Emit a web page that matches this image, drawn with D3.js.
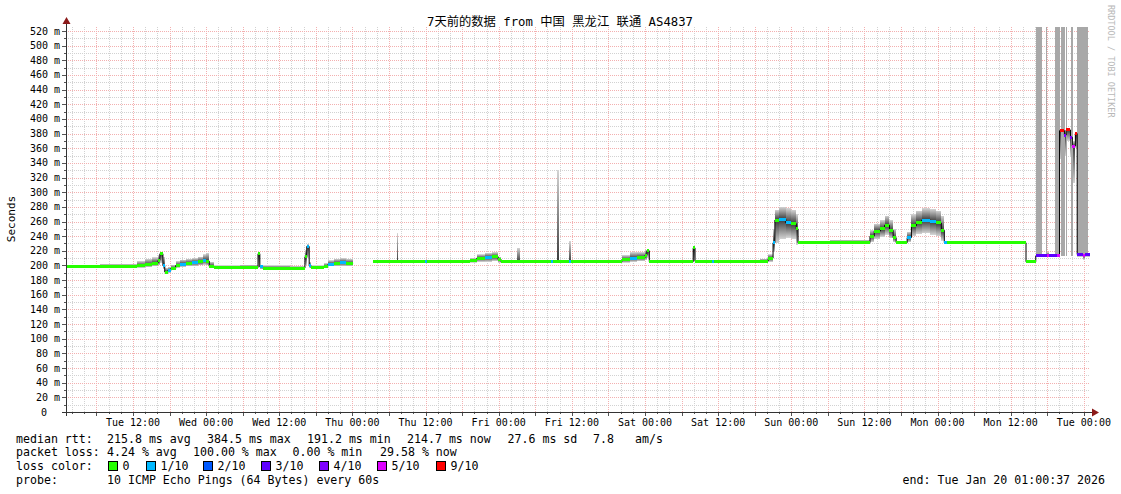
<!DOCTYPE html>
<html><head><meta charset="utf-8">
<script src="https://cdn.jsdelivr.net/npm/d3@7"></script>
<style>
html,body{margin:0;padding:0;background:#fff;}
svg{display:block;}
text{font-family:"DejaVu Sans Mono","Noto Sans CJK SC",monospace;fill:#000;white-space:pre;}
</style></head><body>
<svg id="chart" width="1121" height="494"></svg>
<script>
// ---- data (hours after start, median rtt in ms, smoke low/high, loss in tenths) ----
const startTime = "2026-01-13T01:00:37Z";
const endTime = "2026-01-20T01:00:37Z";
const hrs = [0,5.6,11.6,13.0,14.1,15.1,15.4,15.9,16.2,16.7,17.2,18.0,18.7,19.7,20.7,21.7,22.5,23.0,23.5,24.3,
  28.5,31.5,31.8,32.3,36.8,39.2,39.5,39.9,40.2,42.3,43.0,44.0,45.0,45.9,47.1,50.4,51.5,54.3,54.5,58.9,
  59.2,66.3,67.4,68.7,69.9,70.9,71.4,74.0,74.5,79.6,79.9,80.6,80.9,82.5,82.9,91.2,92.5,93.7,95.0,95.3,
  95.7,102.9,103.2,106.0,106.3,113.9,115.2,116.0,116.3,117.0,118.1,119.0,119.8,120.1,125.4,131.9,132.6,133.6,134.3,135.1,
  135.7,136.2,138.0,138.7,139.5,140.4,141.8,142.7,143.6,144.1,144.5,157.5,159.1,161.0,161.2,162.6,163.0,163.8,164.1,164.8,
  165.1,165.6,165.9,166.9,167.2];
const med = [198.5,198.5,199.5,201,203,207,216,200,191,193,196,200,202,203,204,205,207,206,199,197,
  197,216,198,196.5,196.5,212,226,200,197,199,202,203,204,203,null,206,205,205,205.5,205.5,
  205.5,207,210,211,212,208,205,205,205,205,205,205,205,205,205,208,210,211,214,220,
  205,224,206,205,205,206,210,231,262,263,258,257,250,231,231,240,247,250,255,248,
  238,231,238,254,259,262,260,258,248,231,231,205,213,214,213,214,384,378,385,375,
  363,380,215,214,215];
const lo = [197,197,197,198,199,200,203,195,189,190,194,197,198,199,199,200,201,200,196,196,
  196,198,195,195,195,200,210,197,196,197,199,199,199,199,null,204,203,203,204,204,
  204,204,205,205,206,204,204,204,204,204,204,204,204,204,204,204,205,206,207,210,
  204,206,204,204,204,204,205,218,230,236,238,236,228,230,230,232,236,239,242,237,
  232,230,232,240,243,244,242,240,234,230,230,204,211,211,211,212,345,350,370,350,
  312,360,212,208,212];
const hi = [200,202,206,209,211,214,219,212,197,198,201,206,208,209,210,212,215,217,205,200,
  201,218,201,200,199,221,229,205,200,203,207,209,210,209,null,208,208,244,208,207,
  207,210,215,217,218,212,207,224,207,207,207,330,207,233,207,214,218,218,221,223,
  207,226,208,207,207,209,215,250,276,280,278,276,270,233,235,248,257,262,268,262,
  250,234,246,270,275,278,277,275,268,234,234,207,216,218,216,217,386,385,386,380,
  370,382,218,250,217];
const loss = [0,0,0,0,0,0,0,1,0,1,0,0,1,0,1,0,1,0,0,0,
  0,0,1,0,0,0,1,1,0,0,1,0,1,0,0,0,0,0,0,1,
  0,0,0,1,0,0,0,0,0,1,0,0,0,1,0,0,1,0,0,0,
  0,0,0,1,0,0,0,1,0,1,1,0,0,0,0,0,0,0,0,0,
  0,0,1,0,0,1,1,0,0,1,0,0,3,5,3,5,9,4,9,4,
  5,9,3,5,3];
// periods with lost pings drawn as full-height bars (hours after start)
const barStart = [159.1,160.7,162.3,163.2,164.1,164.9,165.9];
const barEnd   = [160.1,161.0,163.1,163.9,164.3,165.2,167.7];
const barLow   = [213,213,213,213,213,213,214];

const lossLevels = [0,1,2,3,4,5,9];
const lossColors = ["#26ff00","#00b8ff","#0059ff","#5e00ff","#7e00ff","#dd00ff","#ff0000"];
const lossLabels = ["0","1/10","2/10","3/10","4/10","5/10","9/10"];
const yTickValues = [0,20,40,60,80,100,120,140,160,180,200,220,240,260,280,300,320,340,360,380,400,420,440,460,480,500,520];

const titleText = "7天前的数据 from 中国 黑龙江 联通 AS4837";
const statsRtt = [["median rtt:",16],["215.8 ms avg",107],["384.5 ms max",207],["191.2 ms min",307],["214.7 ms now",407],["27.6 ms sd",507.5],["7.8",593],["am/s",635]];
const statsLoss = [["packet loss:",16],["4.24 % avg",107],["100.00 % max",193],["0.00 % min",292.5],["29.58 % now",380]];
const probeText = "10 ICMP Echo Pings (64 Bytes) every 60s";
const endText = "end: Tue Jan 20 01:00:37 2026";

// ---- chart ----
const svg = d3.select("#chart");
const t0 = new Date(startTime), t1 = new Date(endTime);
const T = h => new Date(t0.getTime() + h * 3600e3);
const x = d3.scaleUtc().domain([t0, t1]).range([66, 1090]);
const y = d3.scaleLinear().domain([0, 525.5]).range([412, 27]);
const endH = (t1 - t0) / 3600e3;
const n = hrs.length;

const defs = svg.append("defs");
const gUp = defs.append("linearGradient").attr("id","smokeUp").attr("x1",0).attr("y1",0).attr("x2",0).attr("y2",1);
gUp.append("stop").attr("offset","0%").attr("stop-color","#d4d4d4");
gUp.append("stop").attr("offset","100%").attr("stop-color","#3a3a3a");
const gDn = defs.append("linearGradient").attr("id","smokeDn").attr("x1",0).attr("y1",0).attr("x2",0).attr("y2",1);
gDn.append("stop").attr("offset","0%").attr("stop-color","#3a3a3a");
gDn.append("stop").attr("offset","100%").attr("stop-color","#d4d4d4");

svg.append("rect").attr("width",1121).attr("height",494).attr("fill","#fff");

// grid
const grid = svg.append("g").attr("shape-rendering","crispEdges");
const yMinor = d3.range(10, 526, 10).filter(v => v % 20 !== 0);
const yMajor = yTickValues.filter(v => v > 0);
const minorCol = "#d2d2d2", majorCol = "#f3b0b0";
grid.selectAll(".hm").data(yMinor).join("line")
  .attr("x1",66).attr("x2",1090).attr("y1",d=>Math.round(y(d))+0.5).attr("y2",d=>Math.round(y(d))+0.5)
  .attr("stroke",minorCol).attr("stroke-dasharray","1,1");
const xMinor = x.ticks(d3.utcHour.every(2)).filter(d => d.getUTCHours() % 6 !== 0);
const xMajor = x.ticks(d3.utcHour.every(6));
grid.selectAll(".vm").data(xMinor).join("line")
  .attr("x1",d=>Math.round(x(d))+0.5).attr("x2",d=>Math.round(x(d))+0.5).attr("y1",27).attr("y2",412)
  .attr("stroke",minorCol).attr("stroke-dasharray","1,1");
grid.selectAll(".hM").data(yMajor).join("line")
  .attr("x1",66).attr("x2",1090).attr("y1",d=>Math.round(y(d))+0.5).attr("y2",d=>Math.round(y(d))+0.5)
  .attr("stroke",majorCol).attr("stroke-dasharray","1,1");
grid.selectAll(".vM").data(xMajor).join("line")
  .attr("x1",d=>Math.round(x(d))+0.5).attr("x2",d=>Math.round(x(d))+0.5).attr("y1",27).attr("y2",412)
  .attr("stroke",majorCol).attr("stroke-dasharray","1,1");

// segments
const segs = d3.range(n).map(i => ({
  h0: hrs[i], h1: i + 1 < n ? hrs[i+1] : endH, m: med[i], lo: lo[i], hi: hi[i], loss: loss[i],
  next: i + 1 < n ? med[i+1] : null
})).filter(s => s.m != null);

// smoke
const smoke = svg.append("g");
smoke.selectAll(".su").data(segs.filter(s => s.hi > s.m)).join("rect")
  .attr("x", s => x(T(s.h0))).attr("width", s => Math.max(1, x(T(s.h1)) - x(T(s.h0))))
  .attr("y", s => y(s.hi)).attr("height", s => y(s.m) - y(s.hi))
  .attr("fill", "url(#smokeUp)").attr("shape-rendering","crispEdges");
smoke.selectAll(".sd").data(segs.filter(s => s.lo < s.m)).join("rect")
  .attr("x", s => x(T(s.h0))).attr("width", s => Math.max(1, x(T(s.h1)) - x(T(s.h0))))
  .attr("y", s => y(s.m)).attr("height", s => y(s.lo) - y(s.m))
  .attr("fill", "url(#smokeDn)").attr("shape-rendering","crispEdges");

// lost-ping bars
svg.append("g").selectAll("rect").data(d3.range(barStart.length)).join("rect")
  .attr("x", i => x(T(barStart[i]))).attr("width", i => x(T(barEnd[i])) - x(T(barStart[i])))
  .attr("y", y.range()[1]).attr("height", i => y(barLow[i]) - y.range()[1])
  .attr("fill", "#a8a8a8").attr("shape-rendering","crispEdges");

// median black line
let p = "";
segs.forEach(s => {
  const x0 = x(T(s.h0)), x1 = x(T(s.h1)), yy = y(s.m);
  p += `M${x0},${yy}H${x1}`;
  if (s.next != null) p += `V${y(s.next)}`;
});
svg.append("path").attr("d", p).attr("fill","none").attr("stroke","#000").attr("stroke-width",1);

// loss coloured median band
const colorOf = l => lossColors[lossLevels.indexOf(l)];
svg.append("g").selectAll("rect").data(segs).join("rect")
  .attr("x", s => x(T(s.h0))).attr("width", s => Math.max(1, x(T(s.h1)) - x(T(s.h0))))
  .attr("y", s => y(s.m) - 1.5).attr("height", 3)
  .attr("fill", s => colorOf(s.loss)).attr("shape-rendering","crispEdges");

// axes
const ax = svg.append("g");
ax.selectAll(".yt").data(yTickValues.concat(yMinor)).join("line")
  .attr("x1", d => d % 20 === 0 ? 62 : 64).attr("x2", 66)
  .attr("y1", d => Math.round(y(d))+0.5).attr("y2", d => Math.round(y(d))+0.5)
  .attr("stroke", "#555");
ax.selectAll(".xt").data(xMajor.concat(xMinor)).join("line")
  .attr("x1", d => Math.round(x(d))+0.5).attr("x2", d => Math.round(x(d))+0.5)
  .attr("y1", 412).attr("y2", d => d.getUTCHours() % 6 === 0 ? 416 : 414)
  .attr("stroke", "#555");
ax.append("line").attr("x1",66.5).attr("x2",66.5).attr("y1",416).attr("y2",22).attr("stroke","#333");
ax.append("line").attr("x1",62).attr("x2",1094).attr("y1",412.5).attr("y2",412.5).attr("stroke","#333");
ax.append("path").attr("d","M66.5,17L62.5,24L70.5,24Z").attr("fill","#8b1a1a");
ax.append("path").attr("d","M1099,412.5L1092,408.5L1092,416.5Z").attr("fill","#8b1a1a");

// y labels
svg.append("g").selectAll("text").data(yTickValues).join("text")
  .attr("x", d => d === 0 ? 47 : 60).attr("y", d => y(d)).attr("dy","0.35em")
  .attr("text-anchor","end").attr("font-size","10px")
  .text(d => d === 0 ? "0" : d + " m");

// x labels
const xLabelTicks = x.ticks(d3.utcHour.every(12));
const fmt = d3.utcFormat("%a %H:%M");
svg.append("g").selectAll("text").data(xLabelTicks).join("text")
  .attr("x", d => x(d)).attr("y", 425.5).attr("text-anchor","middle").attr("font-size","10px")
  .text(d => fmt(d));

// title & side labels
svg.append("text").attr("x",560).attr("y",26).attr("text-anchor","middle").attr("font-size","12.3px").text(titleText);
svg.append("text").attr("transform","translate(15,219) rotate(-90)").attr("text-anchor","middle").attr("font-size","11px").text("Seconds");
svg.append("text").attr("transform","translate(1108,5) rotate(90)").attr("text-anchor","start").attr("font-size","8.5px")
  .style("fill","#b8b8b8").text("RRDTOOL / TOBI OETIKER");

// legend
const lg = svg.append("g").attr("font-size","11.6px");
statsRtt.forEach(([s, px]) => lg.append("text").attr("x", px).attr("y", 442.5).text(s));
statsLoss.forEach(([s, px]) => lg.append("text").attr("x", px).attr("y", 456).text(s));
lg.append("text").attr("x",16).attr("y",470).text("loss color:");
const boxX = [108,146,203,261,319,377,436];
lossLabels.forEach((lab, i) => {
  lg.append("rect").attr("x", boxX[i] + 0.5).attr("y", 461.5).attr("width", 9).attr("height", 9)
    .attr("fill", lossColors[i]).attr("stroke", "#000");
  lg.append("text").attr("x", boxX[i] + 14.5).attr("y", 470).text(lab);
});
lg.append("text").attr("x",16).attr("y",483.5).text("probe:");
lg.append("text").attr("x",107).attr("y",483.5).text(probeText);
lg.append("text").attr("x",1105).attr("y",483.5).attr("text-anchor","end").text(endText);
</script>
</body></html>
